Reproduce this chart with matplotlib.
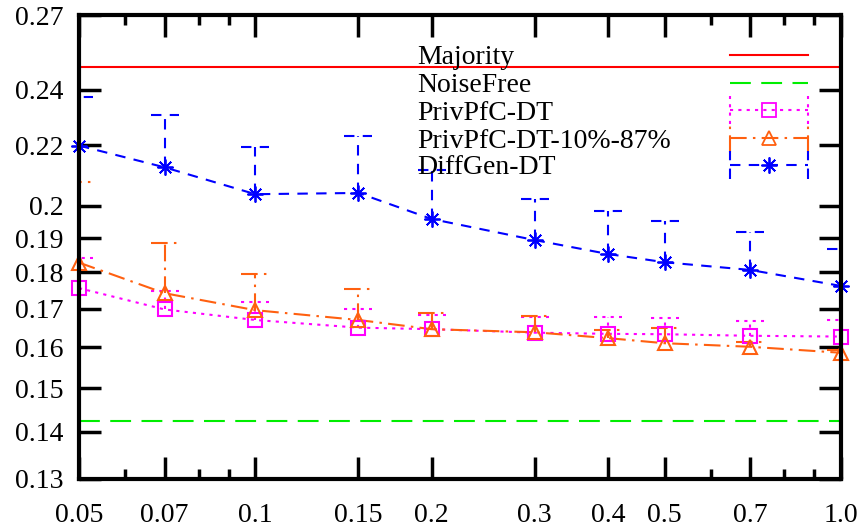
import numpy as np
import matplotlib
matplotlib.use("Agg")
import matplotlib.pyplot as plt
from matplotlib.ticker import FixedLocator, NullFormatter, NullLocator

# ---------------- data ----------------
eps = [0.05, 0.07, 0.1, 0.15, 0.2, 0.3, 0.4, 0.5, 0.7, 1.0]
xtick_vals = [0.05, 0.07, 0.1, 0.15, 0.2, 0.3, 0.4, 0.5, 0.7, 1.0]
xtick_labels = ["0.05", "0.07", "0.1", "0.15", "0.2", "0.3", "0.4", "0.5", "0.7", "1.0"]
xminor_vals = [0.06, 0.08, 0.09, 0.6, 0.8, 0.9]
ytick_vals = [0.13, 0.14, 0.15, 0.16, 0.17, 0.18, 0.19, 0.2, 0.22, 0.24, 0.27]
ytick_labels = ["0.13", "0.14", "0.15", "0.16", "0.17", "0.18", "0.19", "0.2", "0.22", "0.24", "0.27"]

majority = 0.2486
noisefree = 0.1424

privpfc = [0.1756, 0.1698, 0.1670, 0.1650, 0.1646, 0.1637, 0.1634, 0.1633, 0.1629, 0.1627]
privpfc_hi = [0.1841, 0.1749, 0.1719, 0.1699, 0.1682, 0.1678, 0.1677, 0.1675, 0.1668, 0.1670]

privpfc10 = [0.1828, 0.1742, 0.1696, 0.1670, 0.1646, 0.1638, 0.1623, 0.1610, 0.1601, 0.1586]
privpfc10_hi = [0.2075, 0.1885, 0.1795, 0.1753, 0.1688, 0.1680, 0.1644, 0.1648, 0.1614, 0.1592]

diffgen = [0.2198, 0.2124, 0.2036, 0.2040, 0.1958, 0.1894, 0.1853, 0.1829, 0.1807, 0.1762]
diffgen_hi = [0.2374, 0.2307, 0.2192, 0.2232, 0.2115, 0.2021, 0.1983, 0.1953, 0.1918, 0.1868]

labels = ["Majority", "NoiseFree", "PrivPfC-DT", "PrivPfC-DT-10%-87%", "DiffGen-DT"]

# ---------------- style ----------------
FONT = "Liberation Serif"
FS = 20
RED = "#ff0000"
GREEN = "#00ee00"
MAG = "#ff00ff"
ORANGE = "#ff6010"
BLUE = "#0000ff"
LW = 1.5

ls_green = (0, (10, 5))
ls_mag = (0, (1.5, 2.5))
ls_orange = (0, (8, 3, 1.2, 3))
ls_blue = (0, (5, 4))

plt.rcParams["font.family"] = [FONT, "DejaVu Serif"]

fig = plt.figure(figsize=(8.63, 5.27), dpi=100)
ax = fig.add_axes([79 / 863, 1 - 479 / 527, (841 - 79) / 863, (479 - 15) / 527])
ax.set_xscale("log")
ax.set_yscale("log")
ax.set_xlim(0.05, 1.0)
ax.set_ylim(0.13, 0.27)

# reference lines
ax.axhline(majority, color=RED, lw=LW, ls="-", zorder=2)
ax.axhline(noisefree, color=GREEN, lw=LW, ls=ls_green, zorder=2)

capw = 0.055  # half cap width in log-e units of x


def draw_series(y, yhi, color, ls, marker, ms, mew):
    x = np.array(eps)
    y = np.array(y)
    yhi = np.array(yhi)
    ax.plot(x, y, color=color, ls=ls, lw=LW, zorder=3, clip_on=False)
    ax.vlines(x, y, yhi, colors=color, linestyles=ls, lw=LW, zorder=3, clip_on=False)
    ax.hlines(yhi, x * np.exp(-capw), x * np.exp(capw), colors=color, linestyles=ls,
              lw=LW, zorder=3, clip_on=True)
    ax.plot(x, y, ls="none", marker=marker, ms=ms, mew=mew, mec=color, mfc="none",
            color=color, zorder=4, clip_on=False)


draw_series(privpfc, privpfc_hi, MAG, ls_mag, "s", 9.5, 1.5)
draw_series(privpfc10, privpfc10_hi, ORANGE, ls_orange, "^", 10, 1.5)
draw_series(diffgen, diffgen_hi, BLUE, ls_blue, (8, 2, 0), 11.5, 1.3)

# ticks
ax.xaxis.set_major_locator(FixedLocator(xtick_vals))
ax.set_xticklabels(xtick_labels)
ax.xaxis.set_minor_locator(FixedLocator(xminor_vals))
ax.xaxis.set_minor_formatter(NullFormatter())
ax.yaxis.set_major_locator(FixedLocator(ytick_vals))
ax.set_yticklabels(ytick_labels)
ax.yaxis.set_minor_locator(NullLocator())
ax.tick_params(which="major", direction="in", length=16, width=2.5,
               top=True, right=True, labelsize=FS, pad=11)
ax.tick_params(which="minor", direction="in", length=7.5, width=2.5,
               top=True, right=True)
ax.tick_params(axis="x", which="major", pad=17)
for sp in ax.spines.values():
    sp.set_linewidth(3)
    sp.set_zorder(5)

# legend (gnuplot style: text left, sample right)
rows = [55, 83, 110, 138, 165]
tx = (417 - 79) / (841 - 79)
s0 = (730 - 79) / (841 - 79)
s1 = (808 - 79) / (841 - 79)
sm = (s0 + s1) / 2
bh = 14 / 464
specs = [
    (RED, "-", None, None, False),
    (GREEN, ls_green, None, None, False),
    (MAG, ls_mag, "s", 9.5, True),
    (ORANGE, ls_orange, "^", 10, True),
    (BLUE, ls_blue, (8, 2, 0), 11.5, True),
]
for lab, r, (c, ls, mk, ms, eb) in zip(labels, rows, specs):
    yy = 1 - (r - 15) / 464
    ax.text(tx, yy, lab, transform=ax.transAxes, fontsize=FS, ha="left",
            va="center_baseline", zorder=6)
    ax.plot([s0, s1], [yy, yy], transform=ax.transAxes, color=c, ls=ls, lw=LW,
            zorder=6, clip_on=False)
    if eb:
        for sx in (s0, s1):
            ax.plot([sx, sx], [yy - bh, yy + bh], transform=ax.transAxes, color=c,
                    ls=ls, lw=LW, zorder=6, clip_on=False)
        ax.plot([sm], [yy], transform=ax.transAxes, marker=mk, ms=ms, mew=1.3,
                mec=c, mfc="none", ls="none", zorder=6, clip_on=False)

fig.savefig("out.png", dpi=100)
